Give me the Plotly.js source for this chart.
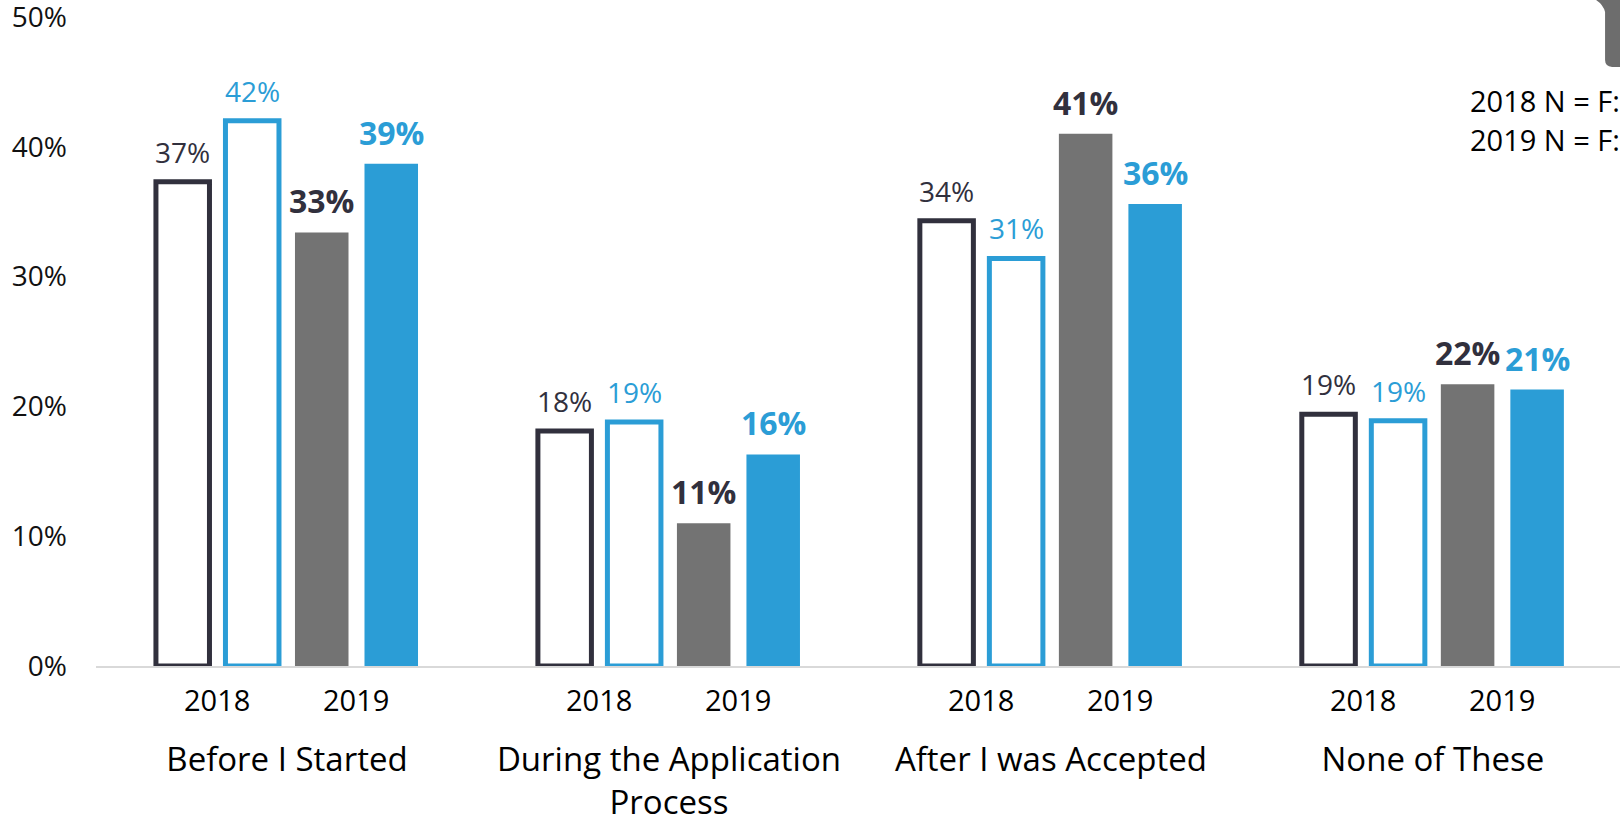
<!DOCTYPE html>
<html>
<head>
<meta charset="utf-8">
<script src="https://cdn.plot.ly/plotly-3.0.1.min.js"></script>
<style>
  html, body { margin: 0; padding: 0; background: #fff; }
  #chart { width: 1620px; height: 821px; }
</style>
</head>
<body>
<div id="chart"></div>
<script>
// ---- data ----
const categories = ['Before I Started', 'During the Application<br>Process', 'After I was Accepted', 'None of These'];
const seriesA2018 = [37.3, 18.1, 34.3, 19.4];   // dark outline
const seriesB2018 = [42.0, 18.8, 31.4, 18.9];   // blue outline
const seriesA2019 = [33.4, 11.0, 41.0, 21.7];   // gray fill
const seriesB2019 = [38.7, 16.3, 35.6, 21.3];   // blue fill
const yearLabels = ['2018', '2019'];
const yTickVals = [0, 10, 20, 30, 40, 50];
const yTickText = ['0%', '10%', '20%', '30%', '40%', '50%'];
const noteLines = ['2018 N = F:', '2019 N = F:'];

// ---- style ----
const DARK = '#31303d';
const BLUE = '#2b9dd6';
const GRAY = '#737373';
const FONT = '"Open Sans", "Noto Sans", sans-serif';
const SLOT = 0.182;

const xIdx = categories.map((_, i) => i);

const series = [
  { name: '2018 A', y: seriesA2018, fill: 'rgba(255,255,255,1)', line: DARK, lw: 5, txt: DARK, bold: false },
  { name: '2018 B', y: seriesB2018, fill: 'rgba(255,255,255,1)', line: BLUE, lw: 5, txt: BLUE, bold: false },
  { name: '2019 A', y: seriesA2019, fill: GRAY, line: GRAY, lw: 0, txt: DARK, bold: true },
  { name: '2019 B', y: seriesB2019, fill: BLUE, line: BLUE, lw: 0, txt: BLUE, bold: true }
];

const traces = series.map(s => ({
  type: 'bar',
  name: s.name,
  x: xIdx,
  y: s.y,
  marker: { color: s.fill, line: { color: s.line, width: s.lw } },
  hoverinfo: 'skip',
  showlegend: false
}));

const annotations = [];
series.forEach((s, k) => {
  s.y.forEach((v, i) => {
    const label = Math.round(v) + '%';
    annotations.push({
      xref: 'x', yref: 'y',
      x: i + (k - 1.5) * SLOT,
      y: v,
      yanchor: 'bottom', xanchor: 'center',
      yshift: s.bold ? 8 : 9,
      showarrow: false,
      text: s.bold ? '<b>' + label + '</b>' : label,
      font: { family: FONT, size: s.bold ? 32 : 28, color: s.txt }
    });
  });
});

xIdx.forEach(i => {
  yearLabels.forEach((yr, j) => {
    annotations.push({
      xref: 'x', yref: 'paper',
      x: i + (j === 0 ? -SLOT : SLOT),
      y: -0.051,
      yanchor: 'middle', xanchor: 'center',
      showarrow: false,
      text: yr,
      font: { family: FONT, size: 29, color: '#000' }
    });
  });
});

noteLines.forEach((t, j) => {
  annotations.push({
    xref: 'paper', yref: 'paper',
    x: 0.9005, y: j === 0 ? 0.871 : 0.811,
    xanchor: 'left', yanchor: 'middle',
    showarrow: false,
    text: t,
    font: { family: FONT, size: 29, color: '#000' }
  });
});

const layout = {
  width: 1620, height: 821,
  margin: { l: 96, r: 0, t: 17, b: 155 },
  paper_bgcolor: '#fff', plot_bgcolor: '#fff',
  barmode: 'group',
  bargap: 1 - 4 * SLOT,
  bargroupgap: 0.23,
  showlegend: false,
  xaxis: {
    range: [-0.5, 3.49],
    tickvals: xIdx,
    ticktext: categories,
    ticks: '',
    showgrid: false,
    zeroline: false,
    showline: true,
    linecolor: '#d9d9d9',
    linewidth: 2,
    ticklabelstandoff: 63,
    ticklabeloverflow: 'allow',
    tickfont: { family: FONT, size: 33, color: '#000' }
  },
  yaxis: {
    range: [0, 50],
    tickvals: yTickVals,
    ticktext: yTickText,
    ticks: '',
    showgrid: false,
    zeroline: false,
    showline: false,
    ticklabelstandoff: 28,
    ticklabeloverflow: 'allow',
    tickfont: { family: FONT, size: 28, color: '#111' }
  },
  annotations: annotations,
  shapes: [{
    type: 'path', xref: 'paper', yref: 'paper',
    path: 'M 0.9843 1.0262 L 1 1.0262 L 1 0.9230 L 0.9948 0.9230 Q 0.9902 0.9240 0.9902 0.9337 L 0.9902 1.0077 Q 0.9890 1.0190 0.9843 1.0262 Z',
    fillcolor: '#6d6d6d', line: { width: 0 }, layer: 'above'
  }]
};

Plotly.newPlot('chart', traces, layout, { displayModeBar: false, staticPlot: true });
</script>
</body>
</html>
